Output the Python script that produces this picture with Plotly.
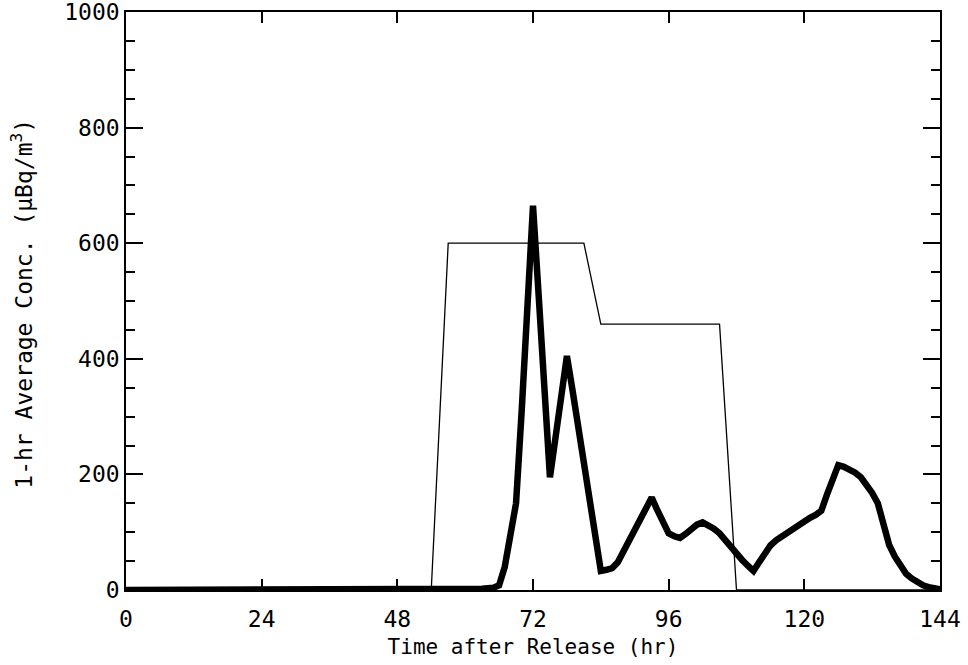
import plotly.graph_objects as go

# Thin line: observed (3-hour steps)
obs_hours = [0, 54, 57, 81, 84, 105, 108, 144]
obs_conc = [0, 0, 600, 600, 460, 460, 0, 0]

# Thick line: modelled hourly concentrations
model_hours = list(range(0, 145))
model_conc = ([0] * 63 +
              [2, 3, 4, 8, 40, 95, 150, 310, 490, 665,
               510, 350, 195, 265, 335, 405, 345, 280, 215, 155,
               90, 33, 35, 38, 48, 66, 85, 103, 122, 141,
               160, 138, 116, 98, 93, 90, 97, 105, 113, 117,
               112, 106, 98, 86, 73, 62, 52, 42, 33, 48,
               64, 77, 86, 93, 100, 107, 114, 120, 125, 130,
               137, 165, 195, 216, 213, 209, 203, 195, 183, 168,
               150, 115, 78, 58, 42, 28, 20, 13, 8, 5,
               3, 1])

x_tick_step = 24
y_tick_step = 200
y_minor_step = 50

tick_font = dict(family="DejaVu Sans Mono", size=23, color="black")
x_title_font = dict(family="DejaVu Sans Mono", size=21, color="black")
y_title_font = dict(family="DejaVu Sans Mono", size=23, color="black")

fig = go.Figure()
fig.add_trace(go.Scatter(x=obs_hours, y=obs_conc, mode="lines",
                         line=dict(color="black", width=1.3), showlegend=False))
fig.add_trace(go.Scatter(x=model_hours, y=model_conc, mode="lines",
                         line=dict(color="black", width=6.5), showlegend=False,
                         cliponaxis=False))

fig.update_layout(
    width=968, height=665,
    margin=dict(l=126, r=28, t=12, b=75),
    paper_bgcolor="white", plot_bgcolor="white",
    font=x_title_font,
)
fig.update_xaxes(
    range=[0, 144], tickmode="linear", tick0=0, dtick=x_tick_step,
    tickfont=tick_font, ticklabelstandoff=8, ticklabeloverflow="allow",
    ticks="inside", ticklen=11, tickwidth=1.5, tickcolor="black",
    showline=True, linecolor="black", linewidth=1.5, mirror="ticks",
    showgrid=False, zeroline=False, automargin=False,
    title=dict(text="Time after Release (hr)", font=x_title_font, standoff=8),
)
fig.update_yaxes(
    range=[0, 1000], tickmode="linear", tick0=0, dtick=y_tick_step,
    tickfont=tick_font, ticklabeloverflow="allow",
    ticks="inside", ticklen=17, tickwidth=1.5, tickcolor="black",
    minor=dict(tickmode="linear", tick0=0, dtick=y_minor_step, ticks="inside",
               ticklen=9, tickwidth=1.5, tickcolor="black", showgrid=False),
    showline=True, linecolor="black", linewidth=1.5, mirror="ticks",
    showgrid=False, zeroline=False, automargin=False,
)
fig.add_annotation(
    text="1-hr Average Conc. (μBq/m<sup>3</sup>)", font=y_title_font,
    textangle=-90, xref="paper", yref="paper", x=-0.128, y=0.495,
    xanchor="center", yanchor="middle", showarrow=False,
)

fig.write_html("out.html")
